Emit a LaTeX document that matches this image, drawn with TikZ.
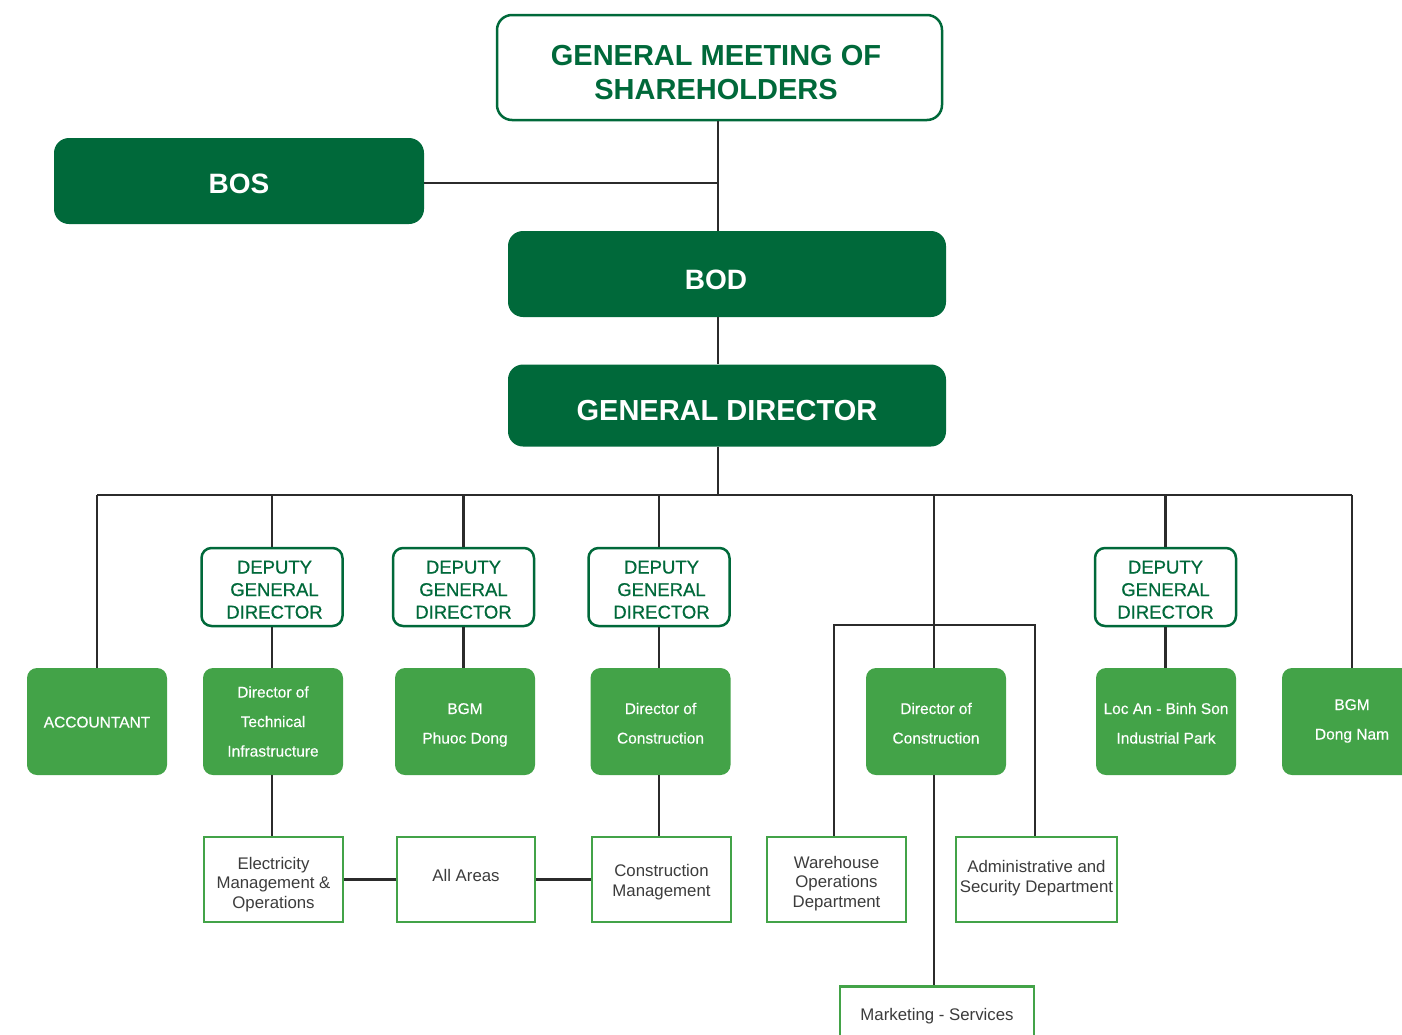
\documentclass[tikz,border=0pt]{standalone}
\usepackage{fontspec}
\setmainfont{Liberation Sans}
\newfontfamily\medfont[FakeBold=0.6]{Liberation Sans}
\newfontfamily\semifont[FakeBold=0.35]{Liberation Sans}
\definecolor{dkgreen}{HTML}{00693A}
\definecolor{ltgreen}{HTML}{43A348}
\definecolor{txtgray}{HTML}{3C3C3C}
\definecolor{linegray}{HTML}{2B2B2B}
\tikzset{
  topbox/.style={draw=dkgreen, line width=2.5pt, fill=white, rounded corners=15pt, text=dkgreen,
    font=\bfseries\fontsize{29}{34}\selectfont, align=center, inner sep=0pt},
  darkbox/.style={fill=dkgreen, rounded corners=15pt, text=white,
    font=\bfseries\fontsize{28}{32}\selectfont, align=center, inner sep=0pt},
  dgdbox/.style={draw=dkgreen, line width=2.5pt, fill=white, rounded corners=10pt, text=dkgreen,
    font=\medfont\fontsize{18.5}{22.5}\selectfont, align=center, inner sep=0pt,
    minimum width=141pt, minimum height=78pt, text height=63pt, text depth=0pt},
  ltbox/.style={fill=ltgreen, rounded corners=10pt, text=white,
    font=\semifont\fontsize{15.5}{29.5}\selectfont, align=center, inner sep=0pt,
    minimum width=140pt, minimum height=107pt},
  unitbox/.style={draw=ltgreen, line width=2.5pt, fill=white, text=txtgray,
    font=\fontsize{16.8}{19.5}\selectfont, align=center, inner sep=0pt,
    minimum width=139pt, minimum height=85pt},
  conn/.style={draw=linegray, line width=2.7pt},
}
\begin{document}
\begin{tikzpicture}[x=1pt,y=-1pt]
\useasboundingbox (0,0) rectangle (1402,1034);
\clip (0,0) rectangle (1402,1034);
% coordinates for connector routes
\coordinate (bus) at (718,495);
\coordinate (brk) at (934,625);
\coordinate (whl) at (834,625);
\coordinate (adl) at (1035,625);
% top levels
\node[topbox, minimum width=445pt, minimum height=105pt, text height=64pt, text depth=0pt] (gms) at (719.5,67.5) {\hspace*{-7pt}GENERAL MEETING OF\\\hspace*{-7pt}SHAREHOLDERS};
\node[darkbox, minimum width=370pt, minimum height=86pt, text height=24pt, text depth=0pt] (bos) at (239,181) {BOS};
\node[darkbox, minimum width=438pt, minimum height=86pt, text height=30pt, text depth=0pt] (bod) at (727,274) {\hspace*{-22pt}BOD};
\node[darkbox, minimum width=438pt, minimum height=82pt, text height=30pt, text depth=0pt, font=\bfseries\fontsize{29}{32}\selectfont] (gd) at (727,405.5) {GENERAL DIRECTOR};
% deputy general directors
\node[dgdbox] (dgd1) at (272,587) {\hspace*{5pt}DEPUTY\\\hspace*{5pt}GENERAL\\\hspace*{5pt}DIRECTOR};
\node[dgdbox] (dgd2) at (463.5,587) {DEPUTY\\GENERAL\\DIRECTOR};
\node[dgdbox] (dgd3) at (659,587) {\hspace*{5pt}DEPUTY\\\hspace*{5pt}GENERAL\\\hspace*{5pt}DIRECTOR};
\node[dgdbox] (dgd4) at (1165.5,587) {DEPUTY\\GENERAL\\DIRECTOR};
% light green row
\node[ltbox, text height=12pt, text depth=0pt] (acc) at (97,721.5) {ACCOUNTANT};
\node[ltbox, text height=70pt, text depth=0pt] (dti) at (273,721.5) {Director of\\Technical\\Infrastructure};
\node[ltbox, text height=44pt, text depth=0pt] (bpd) at (465,721.5) {BGM\\Phuoc Dong};
\node[ltbox, text height=44pt, text depth=0pt] (doc1) at (660.5,721.5) {Director of\\Construction};
\node[ltbox, text height=44pt, text depth=0pt] (doc2) at (936,721.5) {Director of\\Construction};
\node[ltbox, text height=44pt, text depth=0pt] (loc) at (1166,721.5) {Loc An - Binh Son\\Industrial Park};
\node[ltbox, text height=36pt, text depth=0pt] (bdn) at (1352,721.5) {BGM\\Dong Nam};
% bottom units
\node[unitbox, text height=57pt, text depth=0pt] (elec) at (273.5,879.5) {Electricity\\Management \&\\Operations};
\node[unitbox, minimum width=138pt, text height=3pt, text depth=0pt] (all) at (466,879.5) {All Areas};
\node[unitbox, text height=33pt, text depth=0pt] (cm) at (661.5,879.5) {Construction\\Management};
\node[unitbox, text height=55pt, text depth=0pt] (wh) at (836.5,879.5) {Warehouse\\Operations\\Department};
\node[unitbox, minimum width=161pt, text height=25pt, text depth=0pt] (adm) at (1036.5,879.5) {Administrative and\\Security Department};
\node[unitbox, minimum width=194pt, minimum height=56pt, anchor=north, text height=12pt, text depth=0pt] (mkt) at (937,985) {Marketing - Services};
% connectors
\draw[conn] (gms.south -| bus) -- (bod.north -| bus);
\draw[conn] ([yshift=-2pt]bos.east) -- ([yshift=-2pt]bos.east -| bus);
\draw[conn] (bod.south -| bus) -- (gd.north -| bus);
\draw[conn] (gd.south -| bus) -- (bus);
\draw[conn] (acc.north |- bus) -- (bdn.north |- bus);
\draw[conn] (acc.north |- bus) -- (acc.north);
\draw[conn] (dgd1.north |- bus) -- (dgd1.north);
\draw[conn] (dgd2.north |- bus) -- (dgd2.north);
\draw[conn] (dgd3.north |- bus) -- (dgd3.north);
\draw[conn] (dgd4.north |- bus) -- (dgd4.north);
\draw[conn] (bdn.north |- bus) -- (bdn.north);
\draw[conn] (brk |- bus) -- (brk |- doc2.north);
\draw[conn] (dgd1.south) -- (dgd1.south |- dti.north);
\draw[conn] (dgd2.south) -- (dgd2.south |- bpd.north);
\draw[conn] (dgd3.south) -- (dgd3.south |- doc1.north);
\draw[conn] (dgd4.south) -- (dgd4.south |- loc.north);
\draw[conn] (dti.south -| dgd1.south) -- (elec.north -| dgd1.south);
\draw[conn] (doc1.south -| dgd3.south) -- (cm.north -| dgd3.south);
\draw[conn] (elec.east) -- (all.west);
\draw[conn] (all.east) -- (cm.west);
\draw[conn] (whl |- wh.north) -- (whl) -- (adl) -- (adl |- adm.north);
\draw[conn] (doc2.south -| brk) -- (mkt.north -| brk);
\end{tikzpicture}
\end{document}
